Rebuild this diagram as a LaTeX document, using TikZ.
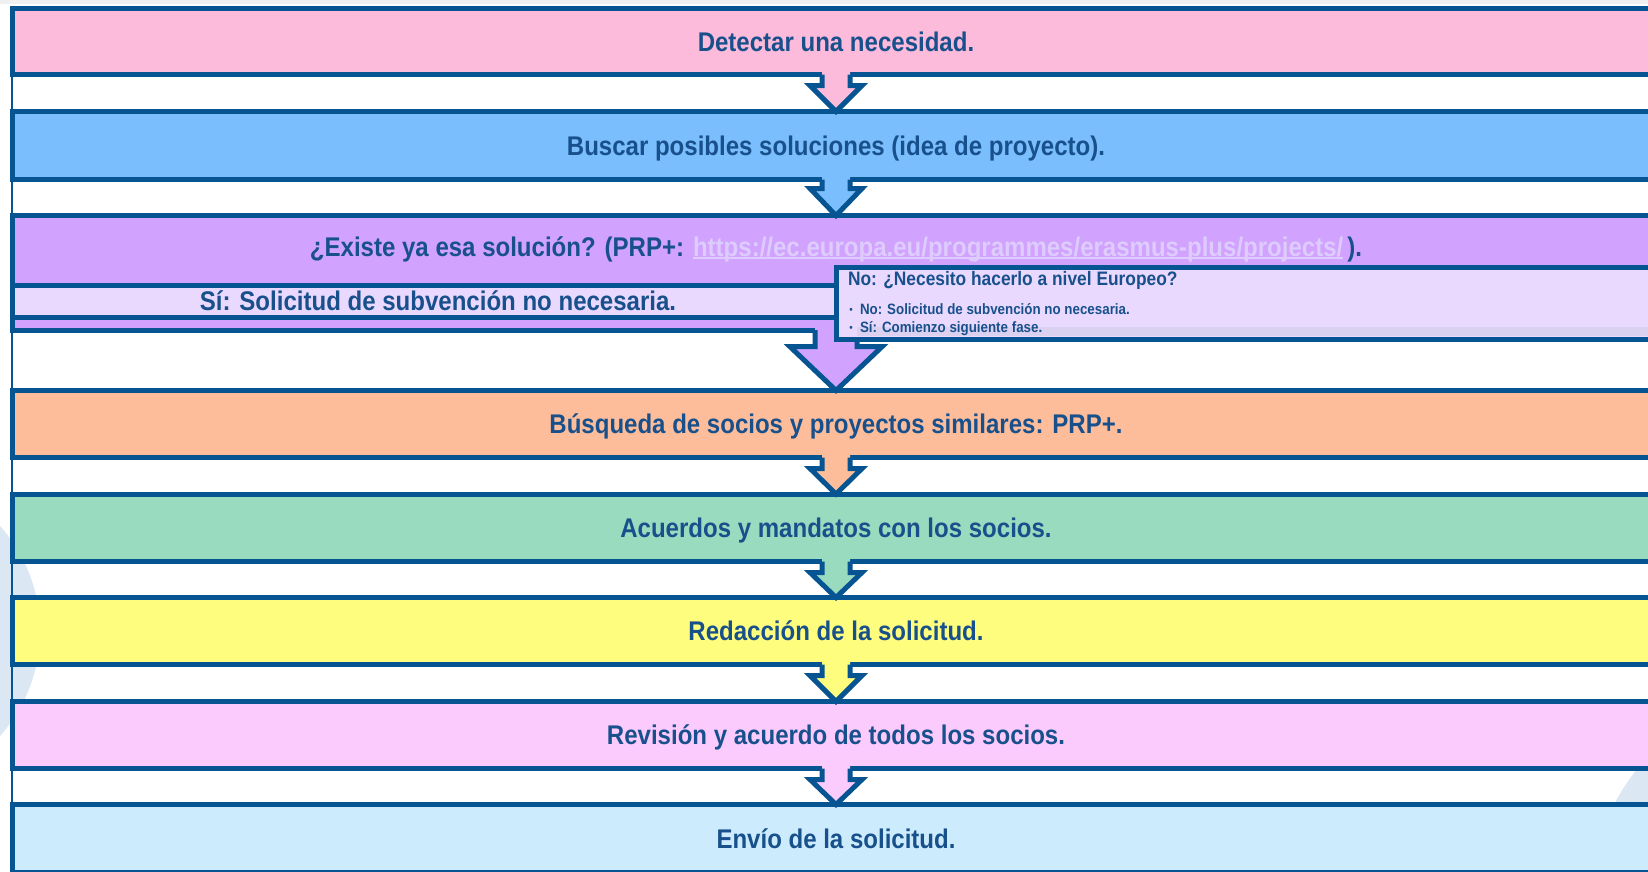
\documentclass[tikz,border=0pt]{standalone}
\usepackage{fontspec}
\setmainfont{Liberation Sans}[FakeStretch=0.89]
\usetikzlibrary{calc}
\definecolor{bordercol}{RGB}{7,84,146}
\definecolor{textcol}{RGB}{24,80,140}
\definecolor{linkcol}{RGB}{222,204,254}
\definecolor{cA}{RGB}{253,187,219}
\definecolor{cB}{RGB}{123,190,253}
\definecolor{cC}{RGB}{209,162,254}
\definecolor{cD}{RGB}{253,189,154}
\definecolor{cE}{RGB}{153,219,191}
\definecolor{cF}{RGB}{254,253,126}
\definecolor{cG}{RGB}{252,203,254}
\definecolor{cH}{RGB}{204,235,253}
\definecolor{lav}{RGB}{234,217,254}
\definecolor{shadowc}{RGB}{218,208,240}
\definecolor{decoc}{RGB}{220,231,244}
\newcommand\linkul[1]{\setbox0\hbox{#1}\rlap{\rule[-2pt]{\wd0}{1.4pt}}\box0}
% #1 from node, #2 to node, #3 colour, #4 shaft half width, #5 head half width, #6 head base offset
\newcommand\blockarrow[6]{%
  \fill[#3] ($(#1.south)+(-#4,-4)$) -- ($(#1.south)+(-#4,#6)$) -- ($(#1.south)+(-#5,#6)$) -- (#2.north)
    -- ($(#1.south)+(#5,#6)$) -- ($(#1.south)+(#4,#6)$) -- ($(#1.south)+(#4,-4)$) -- cycle;
  \draw[arrowline] ($(#1.south)+(-#4,0)$) -- ($(#1.south)+(-#4,#6)$) -- ($(#1.south)+(-#5,#6)$) -- (#2.north)
    -- ($(#1.south)+(#5,#6)$) -- ($(#1.south)+(#4,#6)$) -- ($(#1.south)+(#4,0)$);}
\begin{document}
\begin{tikzpicture}[x=1pt,y=-1pt,
  box/.style={draw=bordercol, line width=5pt, minimum width=1648pt, inner sep=0pt, outer sep=0pt,
    text height=19.6pt, text depth=0pt, font=\fontsize{27}{30}\selectfont\bfseries, text=textcol,
    anchor=north west},
  arrowline/.style={draw=bordercol, line width=5pt, line join=miter},
  lbl/.style={inner sep=0pt, outer sep=0pt, text=textcol},
  big/.style={font=\fontsize{27}{30}\selectfont\bfseries},
  mid/.style={font=\fontsize{19.5}{22}\selectfont\bfseries},
  sml/.style={font=\fontsize{15}{17}\selectfont\bfseries}]
\useasboundingbox (0,0) rectangle (1648,871);
\clip (0,0) rectangle (1648,871);
\fill[white] (0,0) rectangle (1648,871);
% faint decoration
\fill[decoc] (-118,631) circle[radius=158];
\fill[decoc] (1800,900) circle[radius=209];
\fill[black!6] (0,0) rectangle (1648,4);
% thin left rule
\draw[bordercol, line width=1.5pt] (12,8) -- (12,871);
% boxes
\node[box, fill=cA, minimum height=66.5pt] (b1) at (12,8) {Detectar una necesidad.};
\node[box, fill=cB, minimum height=68pt] (b2) at (12,111.5) {Buscar posibles soluciones (idea de proyecto).};
\node[box, fill=cC, minimum height=114.5pt] (b3) at (12,215.5) {};
\node[box, fill=cD, minimum height=67pt] (b4) at (12,390.5) {Búsqueda de socios y proyectos similares: PRP+.};
\node[box, fill=cE, minimum height=67.5pt] (b5) at (12,494) {Acuerdos y mandatos con los socios.};
\node[box, fill=cF, minimum height=67pt] (b6) at (12,597.5) {Redacción de la solicitud.};
\node[box, fill=cG, minimum height=67pt] (b7) at (12,701.5) {Revisión y acuerdo de todos los socios.};
\node[box, fill=cH, minimum height=68pt] (b8) at (12,804.5) {Envío de la solicitud.};
% strip inside box 3
\node[box, fill=lav, minimum width=852pt, minimum height=32pt] (si) at (12,285) {Sí: Solicitud de subvención no necesaria.};
% arrows
\blockarrow{b1}{b2}{cA}{14}{26}{11}
\blockarrow{b2}{b3}{cB}{14}{26}{9}
\blockarrow{b3}{b4}{cC}{21}{46}{16.7}
\blockarrow{b4}{b5}{cD}{14}{26}{11}
\blockarrow{b5}{b6}{cE}{14}{26}{11}
\blockarrow{b6}{b7}{cF}{14}{26}{11}
\blockarrow{b7}{b8}{cG}{14}{26}{11}
% "No" box
\node[box, fill=lav, minimum width=900pt, minimum height=72pt] (nob) at (836,267) {};
\fill[shadowc] (857,327) rectangle (1700,336);
% texts
\node[lbl, big, anchor=base] (b3t) at (836,256.5)
  {¿Existe ya esa solución? (PRP+: {\color{linkcol}\linkul{https://ec.europa.eu/programmes/erasmus-plus/projects/}}\hspace{4pt}).};
\node[lbl, mid, anchor=base west] (not) at (848,285.7) {No: ¿Necesito hacerlo a nivel Europeo?};
\node[lbl, sml, anchor=base west] (nb1) at (860,314) {No: Solicitud de subvención no necesaria.};
\node[lbl, sml, anchor=base west] (nb2) at (860,332) {Sí: Comienzo siguiente fase.};
\node[lbl, anchor=base, font=\fontsize{11}{12}\selectfont] (d1) at (851,313) {•};
\node[lbl, anchor=base, font=\fontsize{11}{12}\selectfont] (d2) at (851,331) {•};
\end{tikzpicture}
\end{document}
